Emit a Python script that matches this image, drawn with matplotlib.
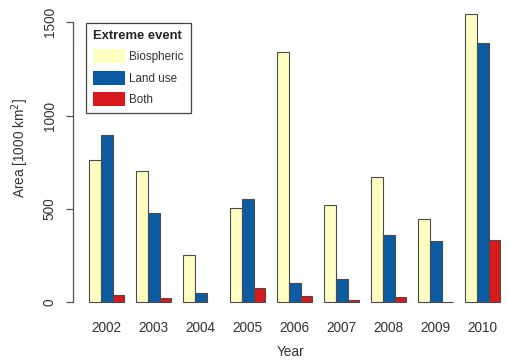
import matplotlib
matplotlib.use("Agg")
import matplotlib.pyplot as plt
import matplotlib.patches as mpatches
import numpy as np

plt.rcParams['font.family'] = ['Liberation Sans', 'DejaVu Sans']

years = ['2002', '2003', '2004', '2005', '2006', '2007', '2008', '2009', '2010']
biospheric = [762, 705, 252, 503, 1341, 523, 670, 448, 1543]
land_use = [898, 480, 48, 555, 105, 123, 362, 330, 1387]
both = [41, 21, np.nan, 75, 32, 14, 30, 3, 335]

series = [biospheric, land_use, both]
series_names = ['Biospheric', 'Land use', 'Both']
colors = ['#FFFFC2', '#0B5BA3', '#D8191E']
yticks = [0, 500, 1000, 1500]

W, H, DPI = 507, 364, 100
fig = plt.figure(figsize=(W / DPI, H / DPI), dpi=DPI)

# plot region in pixels (from top-left)
left_px, right_px = 72.6, 516.7
top_px, bottom_px = 2.8, 313.8
ax = fig.add_axes([left_px / W, 1 - bottom_px / H,
                   (right_px - left_px) / W, (bottom_px - top_px) / H])

n_groups = len(years)
n_series = len(series)
group_step = n_series + 1
text_color = '#333333'
line_color = '#555555'

for j, (vals, c) in enumerate(zip(series, colors)):
    x = 1 + group_step * np.arange(n_groups) + j + 0.5
    ax.bar(x, vals, width=1.0, color=c, edgecolor='#4a4a4a', linewidth=0.8, zorder=2)

x_lo = 1
x_hi = 1 + group_step * (n_groups - 1) + n_series
xpad = 0.04 * (x_hi - x_lo)
ax.set_xlim(x_lo - xpad, x_hi + xpad)
ymax = np.nanmax([np.nanmax(s) for s in series])
ax.set_ylim(-0.04 * ymax, ymax * 1.04)

centers = 1 + group_step * np.arange(n_groups) + n_series / 2
ax.set_xticks(centers)
ax.set_xticklabels(years, fontsize=9.8, color=text_color)
ax.tick_params(axis='x', length=0, pad=5)

ax.set_yticks(yticks)
ax.set_yticklabels([str(t) for t in yticks], rotation=90, va='center',
                   fontsize=9.8, color=text_color)
ax.tick_params(axis='y', length=5, width=0.9, color=line_color, pad=6.5)

for s in ['top', 'right', 'bottom']:
    ax.spines[s].set_visible(False)
ax.spines['left'].set_bounds(yticks[0], yticks[-1])
ax.spines['left'].set_color(line_color)
ax.spines['left'].set_linewidth(0.9)

fig.text(20 / W, 1 - 148.5 / H, 'Area [1000 km$^2$]', rotation=90,
         ha='center', va='center', fontsize=9.8, color=text_color)
fig.text(291 / W, 1 - 352 / H, 'Year', ha='center', va='center',
         fontsize=9.8, color=text_color)

handles = [mpatches.Patch(facecolor=c, edgecolor='none', label=n)
           for c, n in zip(colors, series_names)]
leg = ax.legend(handles=handles, title='Extreme event', loc='upper left',
                bbox_to_anchor=(86 / W, 1 - 23 / H), bbox_transform=fig.transFigure,
                borderaxespad=0, fontsize=8.4, title_fontsize=9.4,
                handlelength=2.7, handleheight=1.5, handletextpad=0.4,
                labelspacing=0.62, borderpad=0.6, fancybox=False, framealpha=1,
                edgecolor='#444444', alignment='left')
leg.get_frame().set_linewidth(0.9)
leg.get_title().set_fontweight('bold')
leg.get_title().set_color('#222222')
for t in leg.get_texts():
    t.set_color(text_color)

fig.savefig('out.png', dpi=DPI)
